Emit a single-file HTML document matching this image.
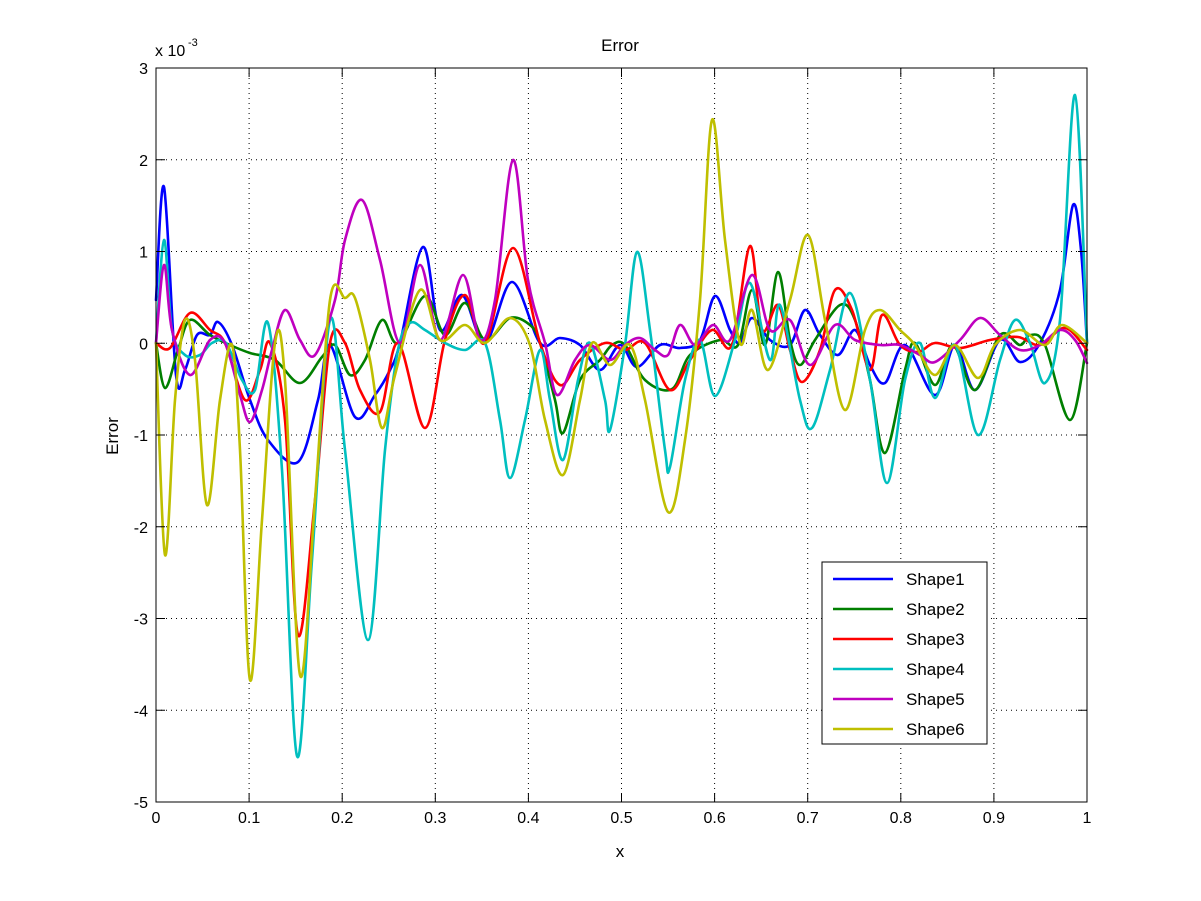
<!DOCTYPE html>
<html><head><meta charset="utf-8"><style>
body{margin:0;background:#fff;}
svg{display:block;font-family:"Liberation Sans",Arial,sans-serif;}
</style></head><body>
<svg id="s" width="1201" height="901" xmlns="http://www.w3.org/2000/svg">
<rect width="1201" height="901" fill="#fff"/>
<g id="grid" stroke="#000" stroke-width="1" stroke-dasharray="1,4"></g>
<g id="series" fill="none" stroke-width="2.6" stroke-linejoin="round" stroke-linecap="round"></g>
<rect x="156" y="68" width="931" height="734" fill="none" stroke="#000" stroke-width="1"/>
<g id="ticks" stroke="#000" stroke-width="1"></g>
<g id="labels" font-size="16" fill="#000"></g>
<text x="620" y="51" font-size="17" text-anchor="middle">Error</text>
<text x="620" y="857" font-size="17" text-anchor="middle">x</text>
<text transform="translate(118,436) rotate(-90)" font-size="17" text-anchor="middle">Error</text>
<text x="155" y="56" font-size="16">x 10</text><text x="188" y="46" font-size="11">-3</text>
<g>
<rect x="822" y="562" width="165" height="182" fill="#fff" stroke="#000"/>
<g stroke-width="2.6">
<line x1="833" y1="579" x2="893" y2="579" stroke="#0000ff"/>
<line x1="833" y1="609" x2="893" y2="609" stroke="#007f00"/>
<line x1="833" y1="639" x2="893" y2="639" stroke="#ff0000"/>
<line x1="833" y1="669" x2="893" y2="669" stroke="#00bfbf"/>
<line x1="833" y1="699" x2="893" y2="699" stroke="#bf00bf"/>
<line x1="833" y1="729" x2="893" y2="729" stroke="#bfbf00"/>
</g>
<g font-size="17">
<text x="906" y="585">Shape1</text><text x="906" y="615">Shape2</text><text x="906" y="645">Shape3</text>
<text x="906" y="675">Shape4</text><text x="906" y="705">Shape5</text><text x="906" y="735">Shape6</text>
</g></g>
</svg>
<script>
var NS="http://www.w3.org/2000/svg";
function el(p,t,a){var e=document.createElementNS(NS,t);for(var k in a)e.setAttribute(k,a[k]);p.appendChild(e);return e;}
var grid=document.getElementById('grid'),ticks=document.getElementById('ticks'),lab=document.getElementById('labels');
for(var i=0;i<=10;i++){var x=156+93.1*i;
 if(i>0&&i<10)el(grid,'line',{x1:x,y1:68,x2:x,y2:802});
 el(ticks,'line',{x1:x,y1:802,x2:x,y2:793});el(ticks,'line',{x1:x,y1:68,x2:x,y2:77});
 var t=el(lab,'text',{x:x,y:823,'text-anchor':'middle'});t.textContent=(i==0?'0':i==10?'1':'0.'+i);}
for(var v=-5;v<=3;v++){var y=343.25-91.75*v;
 if(v>-5&&v<3)el(grid,'line',{x1:156,y1:y,x2:1087,y2:y});
 el(ticks,'line',{x1:156,y1:y,x2:165,y2:y});el(ticks,'line',{x1:1087,y1:y,x2:1078,y2:y});
 var t=el(lab,'text',{x:148,y:y+6,'text-anchor':'end'});t.textContent=v;}
function path(pts){var d='M'+pts[0][0]+','+pts[0][1];
 for(var i=0;i<pts.length-1;i++){var p0=pts[i-1]||pts[i],p1=pts[i],p2=pts[i+1],p3=pts[i+2]||p2;
  d+=' C'+(p1[0]+(p2[0]-p0[0])/6)+','+(p1[1]+(p2[1]-p0[1])/6)+' '+(p2[0]-(p3[0]-p1[0])/6)+','+(p2[1]-(p3[1]-p1[1])/6)+' '+p2[0]+','+p2[1];}
 return d;}
var S=[
['#0000ff',[[156,300],[164,187],[176,375],[185,370],[197,335],[210,335],[218,322],[232,345],[250,400],[268,440],[298,462],[318,400],[330,345],[355,417],[375,395],[390,370],[400,343],[423,247],[440,330],[462,295],[485,343],[512,282],[540,343],[560,338],[580,345],[600,370],[620,345],[637,367],[660,345],[680,348],[700,340],[715,296],[730,330],[740,343],[752,318],[770,340],[790,345],[805,310],[820,335],[838,355],[855,330],[870,365],[885,383],[905,345],[935,395],[955,345],[975,390],[1000,340],[1020,362],[1040,343],[1060,290],[1073,205],[1081,250],[1087,343]]],
['#007f00',[[156,343],[165,388],[178,350],[190,320],[210,335],[230,345],[250,353],[275,360],[300,383],[322,357],[335,345],[350,375],[365,360],[382,320],[398,343],[425,296],[445,335],[465,303],[485,340],[510,318],[530,325],[540,343],[555,400],[563,433],[580,380],[600,360],[612,345],[625,345],[645,380],[672,389],[690,355],[720,340],[738,345],[752,290],[765,345],[778,272],[790,340],[800,365],[815,340],[840,305],[855,320],[870,380],[885,453],[905,370],[915,343],[935,385],[953,345],[975,390],[1000,335],[1020,345],[1030,335],[1045,345],[1070,420],[1087,343]]],
['#ff0000',[[156,343],[170,348],[190,313],[210,330],[225,343],[245,400],[260,370],[270,343],[285,420],[298,635],[315,500],[330,343],[345,343],[360,390],[380,412],[398,343],[425,428],[445,340],[465,295],[485,343],[513,248],[540,343],[560,385],[580,360],[605,343],[625,350],[645,343],[670,390],[690,360],[712,330],[732,345],[750,246],[762,330],[778,305],[790,350],[802,382],[820,350],[835,290],[852,310],[870,370],[882,315],[900,345],[918,352],[935,343],[960,348],[990,340],[1018,337],[1040,345],[1065,328],[1087,350]]],
['#00bfbf',[[156,343],[164,240],[172,330],[185,355],[200,355],[212,343],[226,343],[242,380],[255,390],[268,323],[282,470],[297,756],[312,560],[330,320],[345,450],[368,640],[385,450],[398,350],[410,323],[425,330],[445,343],[465,350],[485,343],[500,420],[510,478],[525,420],[540,350],[550,400],[563,460],[578,380],[590,343],[605,400],[610,430],[625,345],[637,252],[650,330],[665,450],[670,467],[685,380],[700,340],[715,396],[735,340],[750,283],[770,360],[780,305],[800,400],[812,428],[830,370],[850,293],[870,380],[887,483],[905,380],[920,343],[935,398],[955,345],[978,435],[1000,360],[1015,320],[1030,343],[1045,383],[1060,320],[1075,95],[1087,343]]],
['#bf00bf',[[156,343],[164,265],[172,330],[190,375],[210,340],[225,343],[240,395],[250,422],[262,390],[272,350],[285,310],[300,340],[315,355],[335,300],[345,240],[362,200],[380,260],[400,343],[420,265],[440,340],[463,275],[480,340],[495,300],[513,160],[528,280],[545,343],[557,395],[575,360],[590,345],[610,360],[625,345],[640,338],[655,350],[668,355],[680,325],[695,345],[713,325],[730,340],[752,275],[770,330],[790,320],[810,365],[835,325],[855,340],[880,345],[900,345],[920,355],[935,362],[960,340],[980,318],[1000,335],[1020,350],[1040,345],[1060,330],[1075,340],[1087,363]]],
['#bfbf00',[[156,343],[165,555],[175,400],[185,320],[195,360],[207,505],[220,400],[232,345],[240,450],[250,680],[262,520],[275,343],[285,380],[300,675],[315,500],[330,300],[345,298],[355,298],[370,360],[382,428],[395,375],[420,290],[440,340],[465,325],[485,343],[510,318],[530,345],[545,420],[563,475],[580,400],[592,343],[610,365],[630,345],[645,400],[668,512],[685,440],[700,300],[712,120],[725,240],[740,343],[752,310],[768,370],[790,300],[808,235],[825,320],[845,410],[865,330],[880,310],[900,330],[915,345],[935,375],[955,345],[978,378],[995,345],[1020,330],[1045,345],[1062,325],[1087,343]]]
];
var g=document.getElementById('series');
S.forEach(function(s){el(g,'path',{d:path(s[1]),stroke:s[0]});});
</script>
</body></html>
